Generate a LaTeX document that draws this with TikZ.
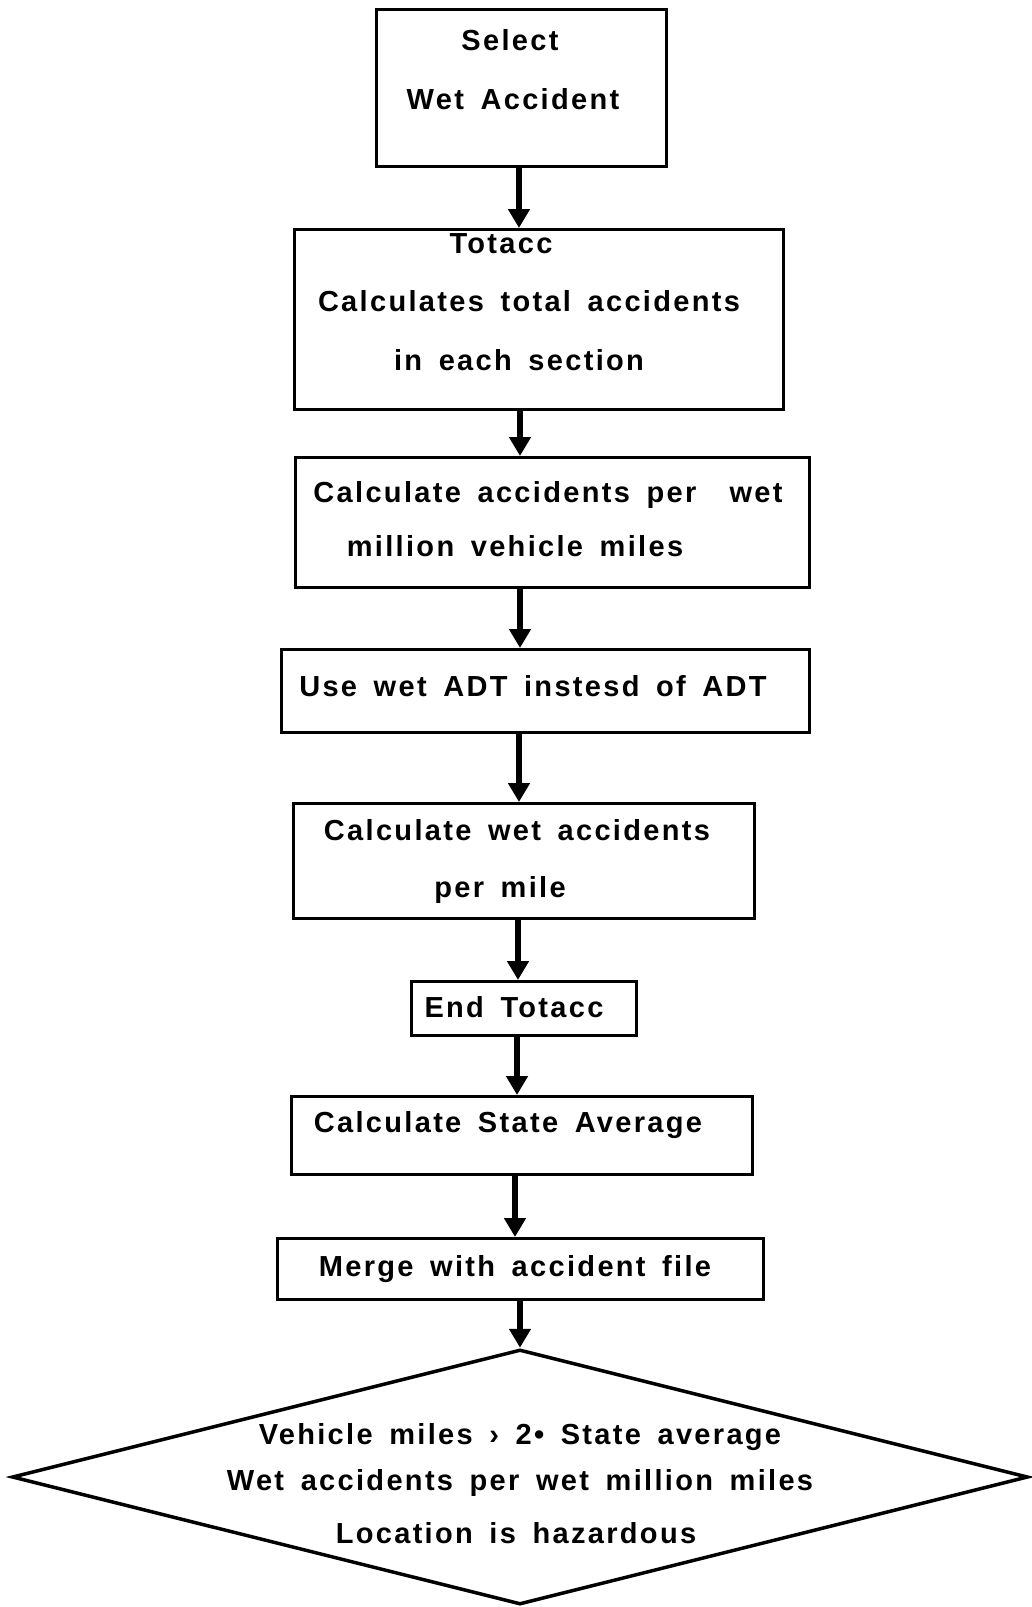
\documentclass[tikz,border=0pt]{standalone}
\usepackage{fontspec}
\setmainfont[LetterSpace=8,WordSpace=1.6]{Liberation Sans}
\usetikzlibrary{arrows.meta,shapes.geometric}
\begin{document}
\begin{tikzpicture}[x=1pt,y=-1pt,
  box/.style={draw,line width=2.8pt,inner sep=0pt,anchor=north west},
  txt/.style={anchor=base,inner sep=0pt,font=\fontsize{29}{34}\selectfont\bfseries},
  arr/.style={line width=6pt,-{Triangle[width=21pt,length=19pt]}}]
\useasboundingbox (0,0) rectangle (1032,1607);
% boxes
\node[box,minimum width=290pt,minimum height=157pt] (sel) at (375,8) {};
\node[box,minimum width=489pt,minimum height=180pt] (tot) at (293,228) {};
\node[box,minimum width=514pt,minimum height=130pt] (cpw) at (294,456) {};
\node[box,minimum width=528pt,minimum height=83pt] (adt) at (280,648) {};
\node[box,minimum width=461pt,minimum height=115pt] (cwm) at (292,802) {};
\node[box,minimum width=225pt,minimum height=54pt] (end) at (410,980) {};
\node[box,minimum width=461pt,minimum height=78pt] (csa) at (290,1095) {};
\node[box,minimum width=486pt,minimum height=61pt] (mrg) at (276,1237) {};
\node[draw,diamond,line width=3.5pt,minimum width=1016pt,minimum height=255pt,inner sep=0pt] (dec) at (520,1477) {};
% texts
\node[txt] (t1a) at (510,50) {Select};
\node[txt] (t1b) at (513,109) {Wet Accident};
\node[txt] (t2a) at (501,253) {Totacc};
\node[txt] (t2b) at (529,311) {Calculates total accidents};
\node[txt] (t2c) at (519,370) {in each section};
\node[txt] (t3a) at (548,502) {Calculate accidents per\ \ wet};
\node[txt] (t3b) at (515,556) {million vehicle miles};
\node[txt] (t4) at (533,696) {Use wet ADT instesd of ADT};
\node[txt] (t5a) at (517,840) {Calculate wet accidents};
\node[txt] (t5b) at (500,897) {per mile};
\node[txt] (t6) at (514,1017) {End Totacc};
\node[txt] (t7) at (508,1132) {Calculate State Average};
\node[txt] (t8) at (515,1276) {Merge with accident file};
\node[txt] (t9a) at (520,1444) {Vehicle miles › 2• State average};
\node[txt] (t9b) at (520,1490) {Wet accidents per wet million miles};
\node[txt] (t9c) at (516,1543) {Location is hazardous};
% arrow axes
\coordinate (x1) at (519,0);
\coordinate (x2) at (520,0);
\coordinate (x3) at (520,0);
\coordinate (x4) at (519,0);
\coordinate (x5) at (518,0);
\coordinate (x6) at (517,0);
\coordinate (x7) at (515,0);
% connectors
\draw[arr] (sel.south -| x1) -- (tot.north -| x1);
\draw[arr] (tot.south -| x2) -- (cpw.north -| x2);
\draw[arr] (cpw.south -| x3) -- (adt.north -| x3);
\draw[arr] (adt.south -| x4) -- (cwm.north -| x4);
\draw[arr] (cwm.south -| x5) -- (end.north -| x5);
\draw[arr] (end.south -| x6) -- (csa.north -| x6);
\draw[arr] (csa.south -| x7) -- (mrg.north -| x7);
\draw[arr] (mrg.south -| dec.north) -- (dec.north);
\end{tikzpicture}
\end{document}
